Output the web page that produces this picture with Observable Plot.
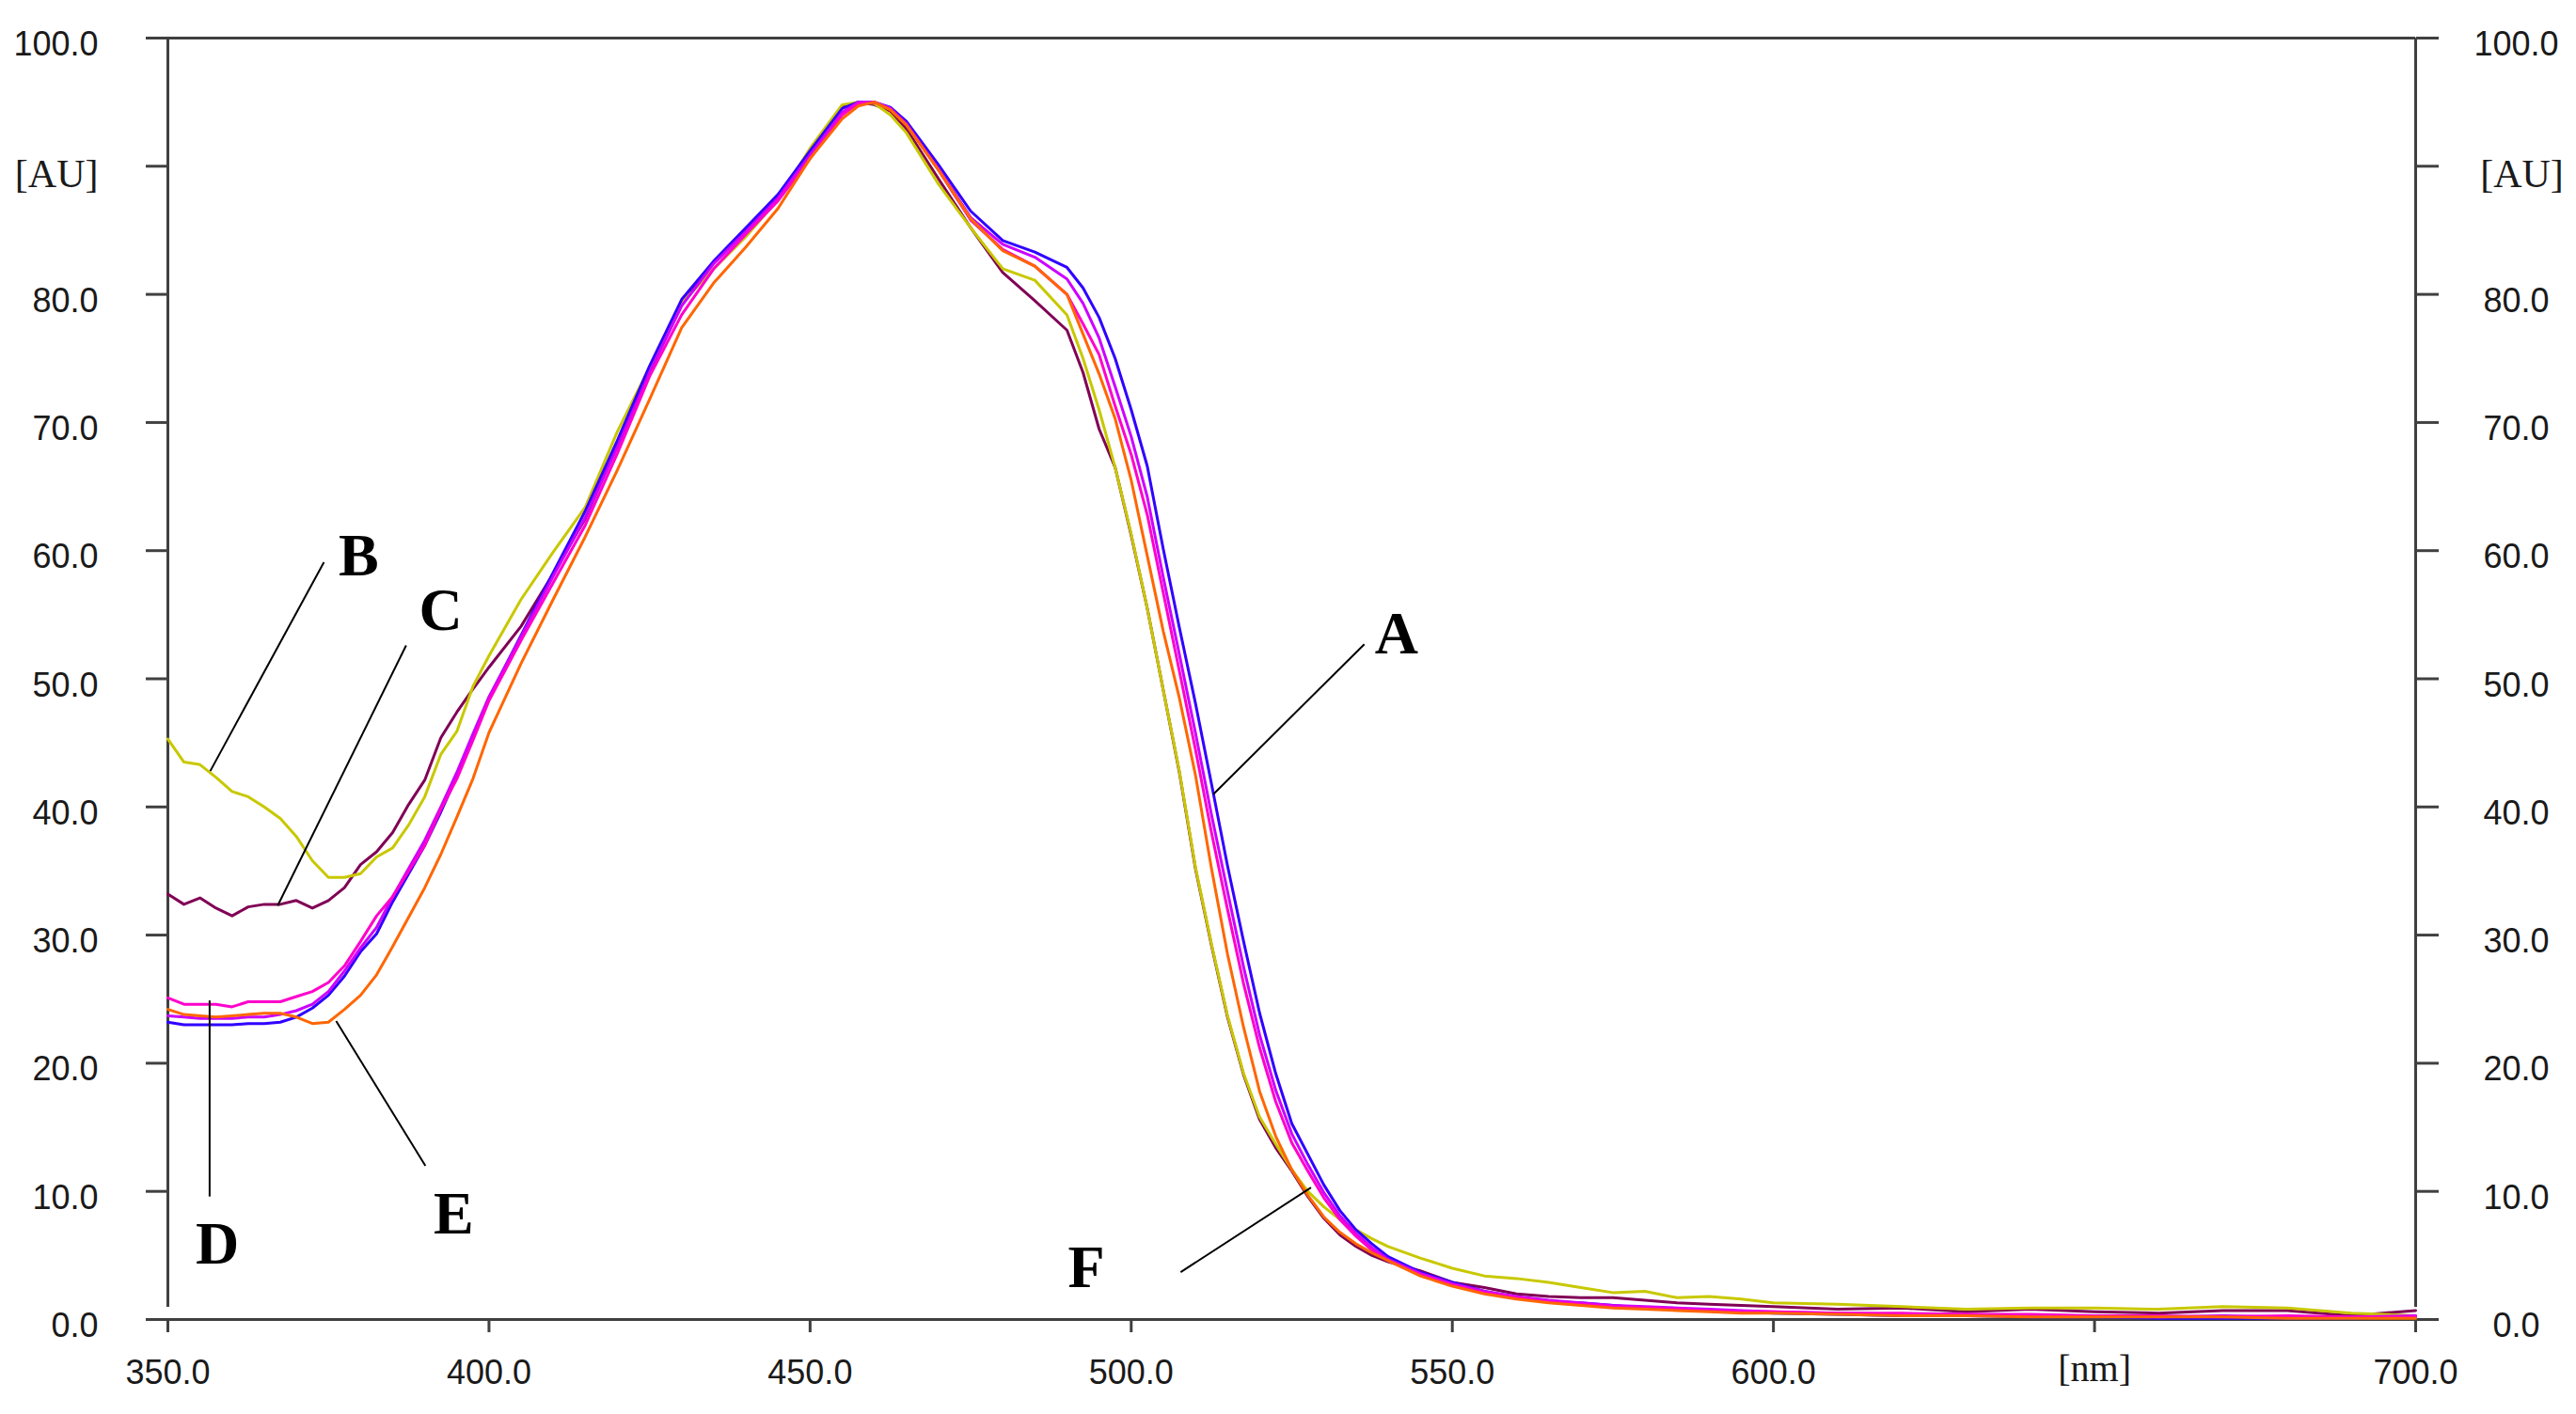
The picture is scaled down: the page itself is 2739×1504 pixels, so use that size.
<!DOCTYPE html>
<html>
<head>
<meta charset="utf-8">
<script src="https://cdn.jsdelivr.net/npm/d3@7"></script>
<script src="https://cdn.jsdelivr.net/npm/@observablehq/plot@0.6"></script>
<style>
  html, body { margin: 0; padding: 0; background: #ffffff; }
  #chart svg { display: block; }
</style>
</head>
<body>
<div id="chart"></div>
<script>
// ---- Data ----
const wavelength = [
  350, 352.5, 355, 357.5, 360, 362.5, 365, 367.5, 370, 372.5, 375, 377.5, 380, 382.5, 385, 387.5, 390, 392.5, 395, 397.5, 400,
  405, 410, 415, 420, 425, 430, 435, 440, 445, 450, 455, 457.5, 460, 462.5, 465, 470, 475, 480, 485, 490,
  492.5, 495, 497.5, 500, 502.5, 505, 507.5, 510, 512.5, 515, 517.5, 520, 522.5, 525, 527.5, 530, 532.5, 535, 537.5, 540,
  545, 550, 555, 560, 565, 570, 575, 580, 585, 590, 595, 600,
  610, 620, 630, 640, 650, 660, 670, 680, 690, 700
];
// A – blue
const curveA = [
  23.2, 23.0, 23.0, 23.0, 23.0, 23.1, 23.1, 23.2, 23.6, 24.3, 25.3, 26.8, 28.7, 30.1, 32.6, 34.8, 37.0, 39.6, 42.4, 45.4, 48.5,
  53.4, 58.3, 63.1, 68.6, 74.4, 79.6, 82.6, 85.2, 87.8, 91.2, 94.5, 95.0, 95.0, 94.6, 93.5, 90.1, 86.5, 84.2, 83.3, 82.1,
  80.5, 78.2, 75.0, 71.0, 66.6, 60.1, 54.0, 48.1, 41.8, 35.4, 29.5, 23.9, 19.2, 15.3, 12.9, 10.5, 8.5, 7.0, 5.9, 4.9,
  3.7, 2.9, 2.2, 1.7, 1.4, 1.3, 1.1, 0.9, 0.8, 0.7, 0.6, 0.5,
  0.4, 0.3, 0.3, 0.2, 0.2, 0.1, 0.1, 0.1, 0.1, 0.2
];
// B – yellow-green
const curveB = [
  45.3, 43.5, 43.3, 42.3, 41.2, 40.8, 40.0, 39.1, 37.7, 35.8, 34.5, 34.5, 34.8, 36.1, 36.8, 38.6, 40.8, 44.1, 45.9, 49.4, 51.8,
  56.2, 59.9, 63.4, 69.3, 74.3, 79.3, 82.0, 84.5, 87.4, 91.4, 94.8, 95.0, 94.9, 94.0, 92.6, 88.6, 85.2, 82.0, 81.1, 78.4,
  75.0, 71.0, 66.5, 61.3, 55.5, 49.1, 42.8, 35.3, 29.3, 23.7, 19.2, 15.8, 13.7, 11.7, 10.0, 8.8, 7.8, 7.0, 6.3, 5.7,
  4.8, 4.0, 3.4, 3.2, 2.9, 2.5, 2.1, 2.2, 1.7, 1.8, 1.6, 1.3,
  1.2, 1.0, 0.8, 0.9, 0.9, 0.8, 1.0, 0.9, 0.5, 0.3
];
// C – maroon
const curveC = [
  33.2, 32.4, 32.9, 32.1, 31.5, 32.2, 32.4, 32.4, 32.7, 32.1, 32.7, 33.7, 35.5, 36.5, 38.0, 40.2, 42.1, 45.4, 47.4, 49.2, 50.9,
  54.1, 58.2, 62.5, 68.3, 74.2, 79.2, 82.5, 85.0, 87.6, 91.2, 94.6, 95.0, 94.8, 94.3, 92.9, 89.0, 85.2, 81.7, 79.5, 77.2,
  73.9, 69.5, 66.5, 61.2, 55.5, 49.1, 42.7, 35.2, 29.2, 23.6, 19.1, 15.6, 13.4, 11.6, 9.6, 7.9, 6.6, 5.7, 5.0, 4.5,
  3.8, 2.9, 2.5, 2.0, 1.8, 1.7, 1.7, 1.5, 1.3, 1.2, 1.1, 1.0,
  0.8, 0.9, 0.6, 0.8, 0.6, 0.5, 0.7, 0.7, 0.3, 0.7
];
// D – pink
const curveD = [
  25.1, 24.6, 24.6, 24.6, 24.4, 24.8, 24.8, 24.8, 25.2, 25.6, 26.3, 27.6, 29.5, 31.5, 33.0, 35.0, 37.0, 39.8, 42.2, 45.2, 48.3,
  53.0, 57.5, 62.0, 67.6, 73.6, 78.4, 82.0, 84.7, 87.3, 90.6, 94.0, 94.9, 95.0, 94.5, 93.3, 89.7, 85.8, 83.5, 82.2, 80.0,
  77.7, 75.3, 71.3, 67.5, 62.8, 56.7, 50.6, 44.5, 38.0, 32.0, 26.2, 21.2, 17.0, 13.8, 11.6, 9.5, 7.8, 6.5, 5.4, 4.6,
  3.5, 2.7, 2.1, 1.7, 1.4, 1.2, 1.0, 0.9, 0.8, 0.7, 0.6, 0.6,
  0.5, 0.5, 0.4, 0.4, 0.3, 0.3, 0.2, 0.3, 0.2, 0.2
];
// E – orange
const curveE = [
  24.2, 23.8, 23.7, 23.6, 23.7, 23.8, 23.9, 23.9, 23.6, 23.1, 23.2, 24.2, 25.3, 26.9, 29.1, 31.4, 33.7, 36.3, 39.2, 42.2, 45.8,
  51.2, 56.2, 61.1, 66.3, 71.8, 77.4, 80.9, 83.7, 86.7, 90.6, 93.7, 94.7, 95.0, 94.4, 93.2, 89.7, 85.9, 83.4, 82.2, 80.0,
  76.9, 73.8, 70.3, 65.5, 59.6, 53.7, 48.5, 42.5, 35.2, 28.5, 22.8, 17.8, 14.3, 11.7, 9.7, 8.0, 6.8, 5.9, 5.2, 4.6,
  3.4, 2.6, 2.0, 1.6, 1.3, 1.1, 0.9, 0.8, 0.7, 0.6, 0.5, 0.5,
  0.4, 0.3, 0.3, 0.2, 0.2, 0.2, 0.2, 0.1, 0.1, 0.1
];
// F – violet
const curveF = [
  23.7, 23.6, 23.5, 23.5, 23.5, 23.6, 23.6, 23.8, 24.1, 24.6, 25.6, 27.2, 29.0, 30.6, 33.0, 35.2, 37.4, 40.0, 42.7, 45.7, 48.6,
  53.3, 58.0, 62.6, 68.1, 73.9, 79.1, 82.4, 84.9, 87.5, 90.9, 94.2, 95.0, 95.0, 94.5, 93.2, 89.8, 86.0, 83.9, 82.9, 81.2,
  79.3, 76.6, 72.8, 68.9, 64.2, 57.9, 51.9, 45.8, 39.4, 33.4, 27.5, 22.2, 17.9, 14.5, 12.1, 9.9, 8.1, 6.7, 5.6, 4.7,
  3.6, 2.8, 2.2, 1.8, 1.5, 1.3, 1.1, 1.0, 0.9, 0.8, 0.7, 0.6,
  0.5, 0.4, 0.4, 0.3, 0.3, 0.2, 0.3, 0.2, 0.2, 0.3
];

const seriesNames  = ["A", "B", "C", "D", "E", "F"];
const seriesColors = ["#3000ff", "#c8c800", "#800055", "#ff00cc", "#ff6600", "#cc00ff"];
const seriesValues = { A: curveA, B: curveB, C: curveC, D: curveD, E: curveE, F: curveF };
const drawOrder    = ["C", "B", "A", "F", "D", "E"];

// axes
const xDomain = [350, 700];
const yDomain = [0, 100];
const xTicks = [350, 400, 450, 500, 550, 600, 700];
const xUnitTicks = [650];
const xUnitLabel = "[nm]";
const yTicks = [0, 10, 20, 30, 40, 50, 60, 70, 80, 100];
const yUnitTicks = [90];
const yUnitLabel = "[AU]";

// annotation letters and leader lines (data coordinates)
const labelNames = ["A", "B", "C", "D", "E", "F"];
const labelX     = [541.3, 379.7, 392.5, 357.7, 394.5, 493.0];
const labelY     = [53.5, 59.6, 55.3, 5.9, 8.2, 4.0];
const leaderX1   = [536.3, 374.3, 387.1, 356.5, 376.2, 507.7];
const leaderY1   = [52.7, 59.1, 52.6, 24.9, 23.3, 3.7];
const leaderX2   = [512.8, 356.6, 367.1, 356.5, 390.1, 528.0];
const leaderY2   = [41.0, 42.8, 32.3, 9.6, 12.0, 10.3];

// ---- Build tables ----
const rows = drawOrder.flatMap(s => wavelength.map((w, i) => ({ series: s, nm: w, value: seriesValues[s][i] })));
const labels = labelNames.map((t, i) => ({ t, x: labelX[i], y: labelY[i] }));
const leaders = labelNames.map((t, i) => ({ x1: leaderX1[i], y1: leaderY1[i], x2: leaderX2[i], y2: leaderY2[i] }));

const sansFont = "'Liberation Sans Narrow', 'Liberation Sans', Arial, sans-serif";
const serifFont = "'Liberation Serif', 'Times New Roman', serif";
const axisColor = "#404040";
const textColor = "#1a1a1a";

const chart = Plot.plot({
  width: 2739,
  height: 1504,
  marginLeft: 178,
  marginRight: 171,
  marginTop: 40,
  marginBottom: 101,
  style: { background: "#ffffff", overflow: "visible" },
  x: { domain: xDomain, label: null },
  y: { domain: yDomain, label: null },
  color: { domain: seriesNames, range: seriesColors },
  marks: [
    // frame lines
    Plot.ruleX(xDomain, { y1: yDomain[0], y2: yDomain[1], insetTop: -13, stroke: axisColor, strokeWidth: 3 }),
    Plot.ruleY(yDomain, { stroke: axisColor, strokeWidth: 3 }),

    // left axis
    Plot.axisY(yTicks.concat(yUnitTicks), { anchor: "left", tickSize: 23, fill: "none", stroke: axisColor, strokeWidth: 3, label: null }),
    Plot.axisY(yTicks, { anchor: "left", tickSize: 23, tickPadding: 51, stroke: "none", fill: textColor,
      tickFormat: d => d.toFixed(1), fontSize: 36, fontFamily: sansFont, dy: 7, label: null }),
    Plot.axisY(yUnitTicks, { anchor: "left", tickSize: 23, tickPadding: 51, stroke: "none", fill: textColor,
      tickFormat: () => yUnitLabel, fontSize: 42, fontFamily: serifFont, dy: 9, label: null }),

    // right axis
    Plot.axisY(yTicks.concat(yUnitTicks), { anchor: "right", tickSize: 24, fill: "none", stroke: axisColor, strokeWidth: 3, label: null }),
    Plot.axisY(yTicks, { anchor: "right", tickSize: 24, tickPadding: 83, textAnchor: "middle", stroke: "none", fill: textColor,
      tickFormat: d => d.toFixed(1), fontSize: 36, fontFamily: sansFont, dy: 7, label: null }),
    Plot.axisY(yUnitTicks, { anchor: "right", tickSize: 24, tickPadding: 89, textAnchor: "middle", stroke: "none", fill: textColor,
      tickFormat: () => yUnitLabel, fontSize: 42, fontFamily: serifFont, dy: 9, label: null }),

    // bottom axis
    Plot.axisX(xTicks.concat(xUnitTicks), { anchor: "bottom", tickSize: 14, fill: "none", stroke: axisColor, strokeWidth: 3, label: null }),
    Plot.axisX(xTicks, { anchor: "bottom", tickSize: 14, tickPadding: 29, stroke: "none", fill: textColor,
      tickFormat: d => d.toFixed(1), fontSize: 36, fontFamily: sansFont, label: null }),
    Plot.axisX(xUnitTicks, { anchor: "bottom", tickSize: 14, tickPadding: 23, stroke: "none", fill: textColor,
      tickFormat: () => xUnitLabel, fontSize: 40, fontFamily: serifFont, label: null }),

    // spectra
    Plot.line(rows, { x: "nm", y: "value", z: "series", stroke: "series", strokeWidth: 3, curve: "linear" }),

    // leader lines and letters
    Plot.link(leaders, { x1: "x1", y1: "y1", x2: "x2", y2: "y2", stroke: "#000000", strokeWidth: 2 }),
    Plot.text(labels, { x: "x", y: "y", text: "t", fontFamily: serifFont, fontWeight: "bold", fontSize: 64,
      fill: "#000000", textAnchor: "middle", lineAnchor: "middle" })
  ]
});

document.getElementById("chart").appendChild(chart);
</script>
</body>
</html>
